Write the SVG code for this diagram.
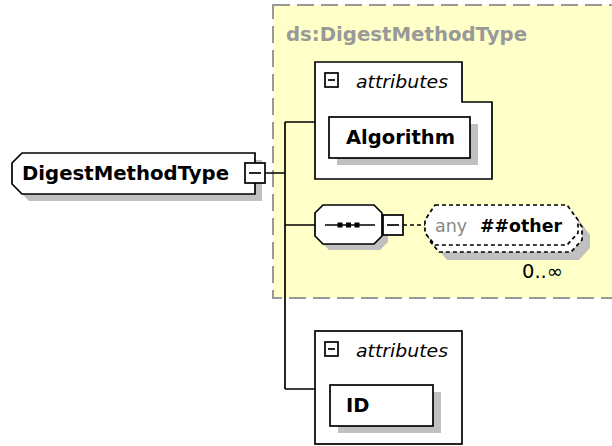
<svg xmlns="http://www.w3.org/2000/svg" width="612" height="446" viewBox="0 0 612 446">
<style>
.ln{fill:none;stroke:#000;stroke-width:1.7}
.box{fill:#fff;stroke:#000;stroke-width:1.7}
.shd{fill:#c0c0c0;stroke:none}
.dsh{fill:#fff;stroke:#000;stroke-width:1.7;stroke-dasharray:4 3}
.nm{font-family:"DejaVu Sans",sans-serif;font-weight:bold;font-size:19.5px;fill:#000}
.at{font-family:"DejaVu Sans",sans-serif;font-style:italic;font-size:18px;fill:#000}
</style>
<rect width="612" height="446" fill="#fff"/>
<g id="type-region">
<rect x="273" y="5" width="350" height="293" fill="#ffffc8" stroke="#999" stroke-width="2" stroke-dasharray="17 7"/>
<text x="286" y="41" font-family="DejaVu Sans,sans-serif" font-weight="bold" font-size="19.5" fill="#999" textLength="241" lengthAdjust="spacingAndGlyphs">ds:DigestMethodType</text>
</g>
<g id="connectors">
<path class="ln" d="M265,173 H285 M285,122 V389 M285,122 H315 M285,225 H315 M285,389 H315"/>
<path class="ln" d="M403,225 H425" stroke-dasharray="4 3"/>
</g>
<g id="DigestMethodType">
<path class="shd" d="M29,160 L262,160 L262,201 L29,201 L19,191 L19,170 Z"/>
<path class="box" d="M22,153 L255,153 L255,194 L22,194 L12,184 L12,163 Z"/>
<text class="nm" x="22" y="180" textLength="207" lengthAdjust="spacingAndGlyphs">DigestMethodType</text>
<rect class="box" x="245" y="163" width="20" height="20"/>
<path class="ln" d="M249,173 H261"/>
</g>
<g id="attributes1">
<path class="box" d="M315,62 H462 V102 H492 V179 H315 Z"/>
<rect class="box" x="325" y="73" width="13" height="14"/>
<path class="ln" d="M328,80 H335"/>
<text class="at" x="356" y="88" textLength="92" lengthAdjust="spacingAndGlyphs">attributes</text>
</g>
<g id="Algorithm">
<rect class="shd" x="337" y="124" width="141" height="41"/>
<rect class="box" x="329" y="117" width="141" height="41"/>
<text class="nm" x="346" y="144" textLength="109" lengthAdjust="spacingAndGlyphs">Algorithm</text>
</g>
<g id="sequence">
<path class="shd" d="M329,211 L380,211 L388,219 L388,242 L380,250 L329,250 L321,242 L321,219 Z"/>
<path class="box" d="M323,205 L374,205 L382,213 L382,236 L374,244 L323,244 L315,236 L315,213 Z"/>
<path class="ln" d="M325,225 H375"/>
<rect x="337.5" y="222.5" width="5" height="5" fill="#000"/>
<rect x="346" y="222.5" width="5" height="5" fill="#000"/>
<rect x="354.5" y="222.5" width="5" height="5" fill="#000"/>
<rect class="box" x="383" y="215" width="20" height="20"/>
<path class="ln" d="M387,225 H399"/>
</g>
<g id="any">
<path class="shd" d="M447,220 L579,220 L590,235 L590,248 L579,260 L447,260 L437,248 L437,235 Z"/>
<path class="dsh" d="M439,212 L571,212 L582,227 L582,240 L571,252 L439,252 L429,240 L429,227 Z"/>
<path class="dsh" d="M435,205 L567,205 L578,220 L578,233 L567,245 L435,245 L425,233 L425,220 Z"/>
<text x="435" y="232" font-family="DejaVu Sans,sans-serif" font-size="17.5" fill="#888">any</text>
<text x="480" y="232" font-family="DejaVu Sans,sans-serif" font-weight="bold" font-size="17.5" fill="#000" textLength="82" lengthAdjust="spacingAndGlyphs">##other</text>
<text x="522" y="278" font-family="DejaVu Sans,sans-serif" font-size="19" fill="#000" textLength="41" lengthAdjust="spacingAndGlyphs">0..∞</text>
</g>
<g id="attributes2">
<rect class="box" x="315" y="331" width="147" height="113"/>
<rect class="box" x="325" y="342" width="13" height="14"/>
<path class="ln" d="M328,349 H335"/>
<text class="at" x="356" y="357" textLength="92" lengthAdjust="spacingAndGlyphs">attributes</text>
</g>
<g id="ID">
<rect class="shd" x="338" y="392" width="103" height="41"/>
<rect class="box" x="330" y="385" width="103" height="41"/>
<text class="nm" x="346" y="412">ID</text>
</g>
</svg>
